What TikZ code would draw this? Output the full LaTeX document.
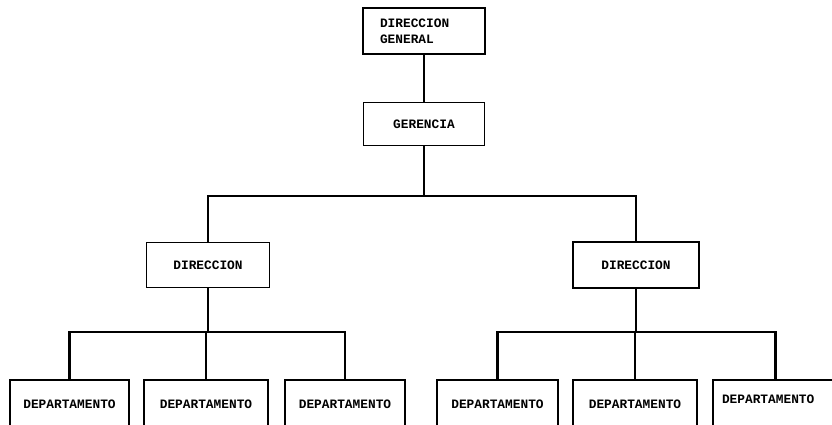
\documentclass[tikz,border=0pt]{standalone}
\usepackage{fontspec}
\setmonofont{Liberation Mono}
\usepackage{tikz}
\usetikzlibrary{positioning}

\tikzset{
  box/.style={draw, line width=1.1pt, rectangle, inner sep=0pt, font=\ttfamily\bfseries\fontsize{7.3}{9}\selectfont},
  dept/.style={box, anchor=north, minimum height=0.96cm},
  conn/.style={line width=1.7pt}
}

\begin{document}
\begin{tikzpicture}[x=0.02cm, y=-0.02cm]
\clip (0,0) rectangle (832,425);
\fill[white] (0,0) rectangle (832,425);

% top of the chart
\node[box, minimum width=2.44cm, minimum height=0.92cm, text width=1.76cm, inner xsep=0.34cm, align=left] (dg) at (424,31) {DIRECCION\\GENERAL};
\node[box, minimum width=2.42cm, minimum height=0.86cm] (ger) at (424,124) {GERENCIA};

% the two direcciones
\node[box, minimum width=2.46cm, minimum height=0.9cm] (dirL) at (208,265) {DIRECCION};
\node[box, minimum width=2.52cm, minimum height=0.92cm] (dirR) at (636,265) {DIRECCION};

% departamentos
\foreach \n/\x/\w in {d1/69.5/119, d2/206/124, d3/345/120, d4/497.5/121, d5/635/124}
  \node[dept, minimum width=\w*0.02cm] (\n) at (\x,379) {DEPARTAMENTO};
\node[dept, minimum width=2.48cm, text width=2.12cm, inner xsep=0.18cm, align=left, text depth=0.2cm] (d6) at (775,379) {DEPARTAMENTO};

% junctions
\coordinate (j0) at (424,196);
\coordinate (j1) at (208,332);
\coordinate (j2) at (636,332);

\draw[conn] (dg) -- (ger);
\draw[conn] (ger) -- (j0);
\draw[conn] (dirL.north) |- (j0) -| (dirR.north);

\draw[conn] (dirL) -- (j1);
\draw[conn] (d1.north) |- (j1) -| (d3.north);
\draw[conn] (d2.north) -- (d2.north |- j1);

\draw[conn] (dirR) -- (j2);
\draw[conn] (d4.north) |- (j2) -| (d6.north);
\draw[conn] (d5.north) -- (d5.north |- j2);
\end{tikzpicture}
\end{document}
